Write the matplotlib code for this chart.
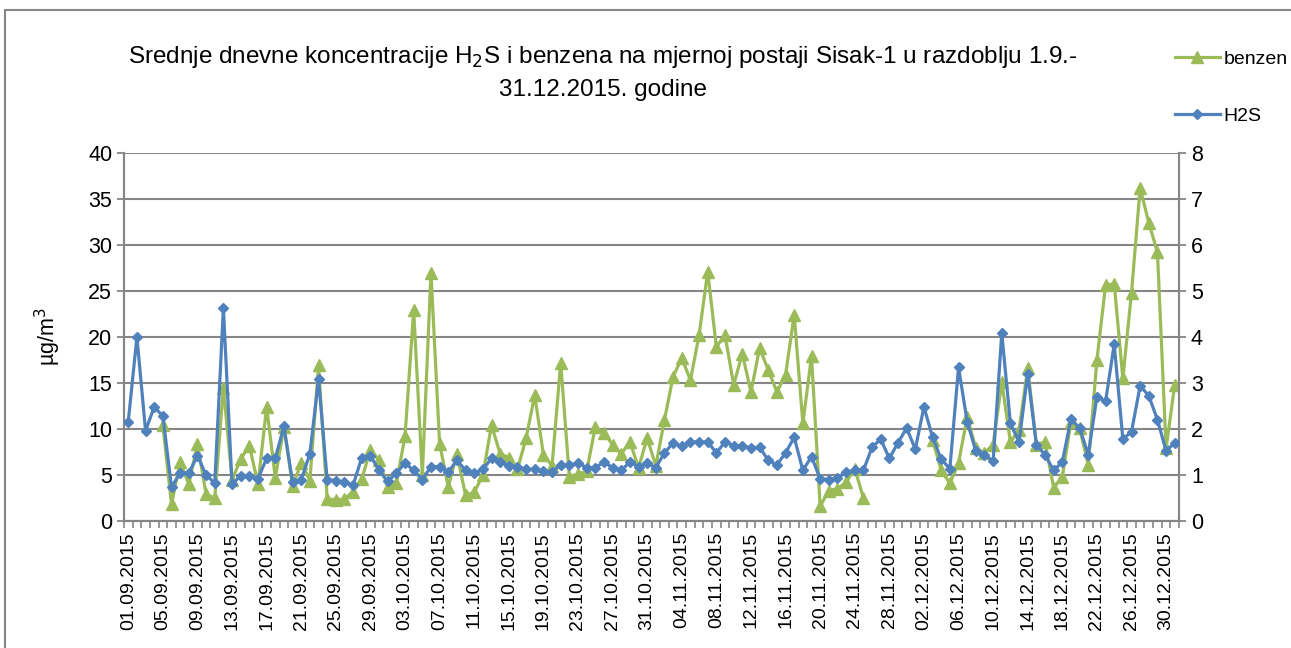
import numpy as np
import pandas as pd
import matplotlib
matplotlib.use('Agg')
import matplotlib.pyplot as plt
from matplotlib.patches import Rectangle

plt.rcParams['font.family'] = ['Liberation Sans', 'DejaVu Sans']

nan = np.nan

# daily dates 01.09.2015 - 31.12.2015
dates = pd.date_range('2015-09-01', '2015-12-31', freq='D')
date_labels = [d.strftime('%d.%m.%Y') for d in dates]

# benzen, left axis (µg/m3)
benzen = [
    nan, nan, nan, nan, 10.4, 1.8, 6.4, 4.0, 8.4, 2.9,
    2.5, 14.5, 4.5, 6.7, 8.2, 4.0, 12.4, 4.7, 10.2, 3.8,
    6.3, 4.4, 16.9, 2.4, 2.3, 2.4, 3.2, 4.6, 7.7, 6.6,
    3.7, 4.1, 9.2, 22.9, 5.0, 27.0, 8.4, 3.7, 7.3, 2.8,
    3.1, 5.0, 10.4, 7.3, 6.9, 5.6, 9.0, 13.7, 7.2, 6.0,
    17.2, 4.8, 5.1, 5.4, 10.2, 9.6, 8.3, 7.3, 8.6, 5.8,
    9.0,
    6.0, 11.0, 15.7, 17.7, 15.3, 20.2, 27.1, 18.9, 20.2, 14.8,
    18.2, 14.0, 18.8, 16.4, 14.0, 15.9, 22.4, 10.6, 17.9, 1.6,
    3.3, 3.5, 4.2, 5.7, 2.5, nan, nan, nan, nan, nan,
    nan, nan, 8.8, 5.5, 4.1, 6.3, 11.3, 7.9, 7.4, 8.3,
    15.1, 8.6, 9.9, 16.6, 8.3, 8.6, 3.6, 4.8, 10.8, 10.1,
    6.1, 17.5, 25.6, 25.8, 15.5, 24.8, 36.2, 32.4, 29.2, 7.9,
    14.8,
]

# H2S, right axis (µg/m3)
h2s = [
    2.16, 4.00, 1.96, 2.48, 2.28, 0.74, 1.04, 1.04, 1.42, 1.00,
    0.82, 4.62, 0.80, 0.98, 0.98, 0.92, 1.36, 1.36, 2.06, 0.84,
    0.90, 1.46, 3.08, 0.90, 0.88, 0.84, 0.78, 1.38, 1.42, 1.10,
    0.86, 1.04, 1.26, 1.10, 0.90, 1.18, 1.18, 1.06, 1.32, 1.10,
    1.04, 1.12, 1.36, 1.28, 1.20, 1.18, 1.12, 1.12, 1.08, 1.06,
    1.22, 1.22, 1.26, 1.16, 1.16, 1.28, 1.16, 1.10, 1.28, 1.18,
    1.26,
    1.16, 1.48, 1.70, 1.62, 1.72, 1.72, 1.72, 1.48, 1.72, 1.64,
    1.64, 1.58, 1.60, 1.32, 1.22, 1.48, 1.82, 1.10, 1.40, 0.92,
    0.90, 0.94, 1.06, 1.10, 1.10, 1.60, 1.78, 1.36, 1.70, 2.02,
    1.56, 2.48, 1.82, 1.34, 1.14, 3.34, 2.16, 1.52, 1.44, 1.30,
    4.08, 2.12, 1.72, 3.20, 1.66, 1.44, 1.10, 1.28, 2.22, 2.02,
    1.44, 2.70, 2.60, 3.84, 1.78, 1.94, 2.94, 2.72, 2.20, 1.52,
    1.70,
]

left_ticks = [0, 5, 10, 15, 20, 25, 30, 35, 40]
right_ticks = [0, 1, 2, 3, 4, 5, 6, 7, 8]

green = '#9BBB59'
blue = '#4F81BD'
gray = '#868686'

fig = plt.figure(figsize=(12.91, 6.48), dpi=100)
ax = fig.add_axes([0.0960, 0.196, 0.8173, 0.568])
ax2 = ax.twinx()

x = np.arange(len(dates))
ax.plot(x, benzen, color=green, lw=2.3, marker='^', ms=8, label='benzen', zorder=3)
ax2.plot(x, h2s, color=blue, lw=2.3, marker='D', ms=5, label='H2S', zorder=3)

ax.set_xlim(-0.5, len(dates) - 0.5)
ax.set_ylim(0, 40)
ax2.set_ylim(0, 8)
ax.set_yticks(left_ticks)
ax2.set_yticks(right_ticks)
ax.tick_params(axis='y', labelsize=15.5, color=gray, length=5, width=1.3)
ax2.tick_params(axis='y', labelsize=15.5, color=gray, length=5, width=1.3)

# tick marks between categories, labels every 4th day
ax.set_xticks(np.arange(-0.5, len(dates), 1))
ax.set_xticklabels([])
ax.tick_params(axis='x', which='major', color=gray, length=5, width=1.2)
ax.set_xticks(x[::4], [date_labels[i] for i in x[::4]], minor=True)
ax.tick_params(axis='x', which='minor', length=0, labelsize=14, rotation=90, pad=8)

ax.grid(axis='y', color=gray, lw=1.5)
ax.set_axisbelow(True)
for a in (ax, ax2):
    a.spines['top'].set_visible(False)
    for s in ('left', 'right', 'bottom'):
        a.spines[s].set_color(gray)
        a.spines[s].set_linewidth(1.5)

ax.set_ylabel('µg/m$^3$', fontsize=15.5, labelpad=18)

fig.text(0.467, 0.912, 'Srednje dnevne koncentracije H$_2$S i benzena na mjernoj postaji Sisak-1 u razdoblju 1.9.-',
         ha='center', va='center', fontsize=17.5)
fig.text(0.467, 0.861, '31.12.2015. godine', ha='center', va='center', fontsize=17.5)

fig.legend(handles=ax.get_lines() + ax2.get_lines(), loc='upper left',
           bbox_to_anchor=(0.904, 0.935), frameon=False, fontsize=14,
           handlelength=2.3, handletextpad=0.2, labelspacing=2.05, borderaxespad=0)

fig.patches.append(Rectangle((0.004, -0.1), 1.2, 1.0846, transform=fig.transFigure,
                             fill=False, edgecolor=gray, lw=1.5))

fig.savefig('out.png', dpi=100)
